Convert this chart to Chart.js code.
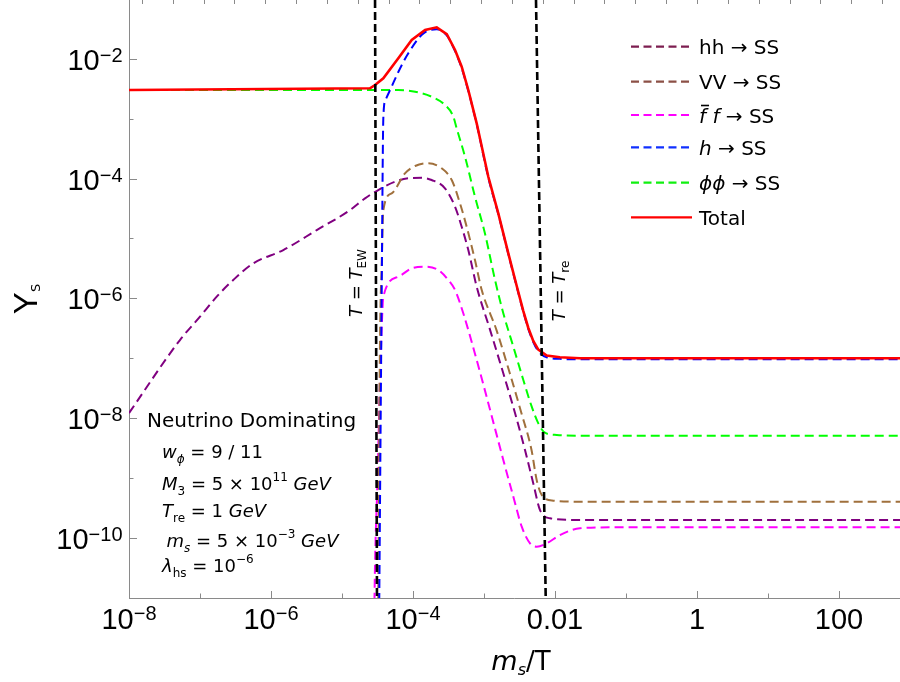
<!DOCTYPE html>
<html><head><meta charset="utf-8">
<script src="https://cdn.jsdelivr.net/npm/chart.js@4.4.0/dist/chart.umd.min.js"></script>
<style>html,body{margin:0;padding:0;background:#fff;}#wrap{width:900px;height:682px;}</style>
</head><body><div id="wrap"><canvas id="c" width="900" height="682"></canvas></div>
<script>
// ---- axis ranges ----
const X_MIN = 1e-8, X_MAX = 723, Y_MIN = 1e-11, Y_MAX = 0.0955;

// ---- series (x = m_s/T, y = Y_S) ----
const totalX = [1e-8, 2.48e-5, 2.92e-5, 3.82e-5, 6.21e-5, 9.59e-5, 1.48e-4, 2.16e-4, 2.99e-4, 3.91e-4, 4.85e-4, 6.01e-4, 7.89e-4, 1.15e-3, 1.59e-3, 2.20e-3, 2.89e-3, 3.58e-3, 4.21e-3, 4.94e-3, 5.82e-3, 7.64e-3, 1.17e-2, 2.25e-2, 723];
const totalY = [3.01e-3, 3.21e-3, 3.64e-3, 4.71e-3, 1.02e-2, 2.05e-2, 3.01e-2, 3.34e-2, 2.58e-2, 1.40e-2, 7.35e-3, 3.01e-3, 8.35e-4, 1.07e-4, 2.63e-5, 5.65e-6, 1.61e-6, 6.15e-7, 3.21e-7, 1.95e-7, 1.40e-7, 1.11e-7, 1.04e-7, 1.00e-7, 1.00e-7];

const hX = [3.30e-5, 3.35e-5, 3.62e-5, 3.82e-5, 4.10e-5, 4.90e-5, 6.21e-5, 8.59e-5, 1.40e-4, 2.16e-4, 2.99e-4, 3.91e-4, 4.85e-4, 6.01e-4, 7.89e-4, 1.15e-3, 1.59e-3, 2.20e-3, 2.89e-3, 3.58e-3, 4.21e-3, 4.94e-3, 5.82e-3, 7.64e-3, 1.17e-2, 2.25e-2, 723];
const hY = [1e-12, 1e-11, 1.07e-6, 1.02e-3, 2.05e-3, 3.24e-3, 6.00e-3, 1.23e-2, 2.65e-2, 3.10e-2, 2.45e-2, 1.34e-2, 7.0e-3, 2.9e-3, 8.1e-4, 1.04e-4, 2.55e-5, 5.5e-6, 1.57e-6, 5.95e-7, 3.1e-7, 1.87e-7, 1.32e-7, 1.04e-7, 9.8e-8, 9.62e-8, 9.62e-8];

const ppX = [1e-8, 2.48e-5, 6.21e-5, 1.07e-4, 1.83e-4, 2.82e-4, 3.70e-4, 4.12e-4, 5.40e-4, 7.46e-4, 1.03e-3, 1.43e-3, 1.87e-3, 2.59e-3, 3.58e-3, 4.70e-3, 5.82e-3, 7.23e-3, 1.06e-2, 2.25e-2, 723];
const ppY = [3.01e-3, 3.01e-3, 3.01e-3, 2.81e-3, 2.32e-3, 1.69e-3, 1.08e-3, 6.89e-4, 2.32e-4, 4.98e-5, 1.22e-5, 2.03e-6, 5.64e-7, 1.56e-7, 4.35e-8, 1.56e-8, 8.22e-9, 5.73e-9, 5.25e-9, 5.11e-9, 5.11e-9];

const vvX = [3.20e-5, 3.43e-5, 3.62e-5, 3.82e-5, 5.01e-5, 7.71e-5, 1.07e-4, 1.64e-4, 2.54e-4, 3.51e-4, 4.59e-4, 5.70e-4, 7.46e-4, 9.29e-4, 1.50e-3, 2.31e-3, 3.37e-3, 4.67e-3, 5.52e-3, 6.50e-3, 9.46e-3, 2.25e-2, 723];
const vvY = [1e-12, 2.02e-7, 3.38e-6, 2.98e-5, 5.68e-5, 1.22e-4, 1.62e-4, 1.80e-4, 1.48e-4, 9.46e-5, 3.86e-5, 1.57e-5, 4.37e-6, 1.38e-6, 2.96e-7, 5.62e-8, 1.21e-8, 2.95e-9, 9.31e-10, 5.24e-10, 4.21e-10, 4.05e-10, 4.05e-10];

const hhX = [1e-8, 5.22e-8, 1.00e-7, 1.72e-7, 2.94e-7, 5.64e-7, 1.49e-6, 4.41e-6, 1.30e-5, 2.11e-5, 3.24e-5, 5.57e-5, 8.59e-5, 1.33e-4, 1.83e-4, 2.82e-4, 3.91e-4, 4.85e-4, 6.01e-4, 7.89e-4, 1.22e-3, 1.87e-3, 2.74e-3, 3.78e-3, 4.94e-3, 6.15e-3, 8.51e-3, 2.25e-2, 723];
const hhY = [1.22e-8, 2.02e-7, 4.95e-7, 1.07e-6, 2.03e-6, 3.85e-6, 6.41e-6, 1.38e-5, 2.98e-5, 4.68e-5, 6.44e-5, 8.86e-5, 1.01e-4, 1.03e-4, 9.46e-5, 6.87e-5, 3.39e-5, 1.57e-5, 6.41e-6, 1.57e-6, 2.96e-7, 5.62e-8, 1.21e-8, 2.95e-9, 8.20e-10, 2.94e-10, 2.14e-10, 2.00e-10, 2.00e-10];

const ffX = [2.82e-5, 2.87e-5, 3.16e-5, 3.43e-5, 3.66e-5, 3.82e-5, 6.21e-5, 9.59e-5, 1.48e-4, 2.27e-4, 3.14e-4, 3.91e-4, 5.11e-4, 7.89e-4, 1.22e-3, 1.87e-3, 2.59e-3, 3.40e-3, 4.45e-3, 5.52e-3, 7.64e-3, 1.17e-2, 2.25e-2, 7.40e-2, 723];
const ffY = [1e-12, 1e-11, 9.31e-10, 4.35e-8, 4.36e-7, 1.07e-6, 2.30e-6, 3.18e-6, 3.38e-6, 2.98e-6, 2.03e-6, 1.38e-6, 5.64e-7, 9.37e-8, 1.37e-8, 2.01e-9, 4.90e-10, 1.55e-10, 8.18e-11, 7.18e-11, 8.18e-11, 1.12e-10, 1.46e-10, 1.51e-10, 1.51e-10];

// vertical reference lines T = T_EW and T = T_re
const ewX = [2.92e-5, 3.11e-5], ewY = [Y_MAX, Y_MIN];
const reX = [5.40e-3, 7.40e-3], reY = [Y_MAX, Y_MIN];

// ---- ticks ----
const xMajor = [1e-8, 1e-6, 1e-4, 1e-2, 1, 100];
const xMajorLabels = [['10','−8'], ['10','−6'], ['10','−4'], ['0.01',''], ['1',''], ['100','']];
const xMinor = [1e-7, 1e-5, 1e-3, 0.1, 10];
const yMajor = [1e-2, 1e-4, 1e-6, 1e-8, 1e-10];
const yMajorLabels = [['10','−2'], ['10','−4'], ['10','−6'], ['10','−8'], ['10','−10']];
const yMinor = [1e-3, 1e-5, 1e-7, 1e-9, 1e-11];
const topTickLn = [-18,-17,-16,-15,-14,-13,-12,-11,-10,-9,-8,-7,-6,-5,-4,-3,-2,-1,0,1,2,3,4,5,6];

const mk = (xs, ys) => xs.map((x, i) => ({x, y: ys[i]}));
const DASH = [9, 5];
const base = {pointRadius: 0, fill: false, borderWidth: 2, cubicInterpolationMode: 'monotone'};

const datasets = [
  Object.assign({}, base, {label: 'ew', data: mk(ewX, ewY), borderColor: '#000', borderWidth: 2.6, borderDash: [8, 4], cubicInterpolationMode: 'default', tension: 0}),
  Object.assign({}, base, {label: 're', data: mk(reX, reY), borderColor: '#000', borderWidth: 2.6, borderDash: [8, 4], cubicInterpolationMode: 'default', tension: 0}),
  Object.assign({}, base, {label: 'Total', data: mk(totalX, totalY), borderColor: '#ff0000', borderWidth: 2.6, cubicInterpolationMode: 'default', tension: 0}),
  Object.assign({}, base, {label: 'h', data: mk(hX, hY), borderColor: '#0000ff', borderDash: DASH}),
  Object.assign({}, base, {label: 'pp', data: mk(ppX, ppY), borderColor: '#00ff00', borderDash: DASH}),
  Object.assign({}, base, {label: 'VV', data: mk(vvX, vvY), borderColor: '#a0703c', borderDash: DASH}),
  Object.assign({}, base, {label: 'hh', data: mk(hhX, hhY), borderColor: '#800080', borderDash: DASH}),
  Object.assign({}, base, {label: 'ff', data: mk(ffX, ffY), borderColor: '#ff00ff', borderDash: DASH})
];

// ---- rich text helper ----
function rich(ctx, segs, x, y, align) {
  let w = 0;
  for (const s of segs) { ctx.font = s.f; s.w = ctx.measureText(s.t).width; w += s.w; }
  let cx = align === 'center' ? x - w / 2 : (align === 'right' ? x - w : x);
  for (const s of segs) {
    ctx.font = s.f;
    ctx.fillText(s.t, cx, y + (s.dy || 0));
    if (s.over) {
      ctx.save(); ctx.lineWidth = 1.6; ctx.setLineDash([]); ctx.strokeStyle = ctx.fillStyle;
      ctx.beginPath(); ctx.moveTo(cx + 2, y - 17); ctx.lineTo(cx + s.w + 3, y - 17); ctx.stroke(); ctx.restore();
    }
    cx += s.w;
  }
  return w;
}

const AX = '#8a8a8a';
const TF = '29px "Liberation Sans", Arial, sans-serif', TS = '20px "Liberation Sans", Arial, sans-serif';
const DJ = '"DejaVu Sans", sans-serif';
const N20 = '20px ' + DJ, I20 = 'italic 20px ' + DJ;
const N18 = '18px ' + DJ, I18 = 'italic 18px ' + DJ, S12 = '12px ' + DJ, SI12 = 'italic 12px ' + DJ;

const legendRows = [
  {color: '#7d1e50', dash: [8, 4.5], segs: [{t: 'hh → SS', f: N20}]},
  {color: '#8c5046', dash: [8, 4.5], segs: [{t: 'VV → SS', f: N20}]},
  {color: '#ff00ff', dash: [8, 4.5], segs: [{t: 'f', f: I20, over: true}, {t: ' ', f: N20}, {t: 'f', f: I20}, {t: ' → SS', f: N20}]},
  {color: '#1030ff', dash: [8, 4.5], segs: [{t: 'h', f: I20}, {t: ' → SS', f: N20}]},
  {color: '#10f010', dash: [8, 4.5], segs: [{t: 'ϕϕ', f: I20}, {t: ' → SS', f: N20}]},
  {color: '#ff0000', dash: [], segs: [{t: 'Total', f: N20}]}
];
const legendY = [46.7, 81.7, 115, 147.3, 182.7, 217.3];

const deco = {
  id: 'deco',
  beforeDatasetsDraw(chart) {
    const ctx = chart.ctx, xs = chart.scales.x, ys = chart.scales.y, a = chart.chartArea;
    ctx.save();
    ctx.strokeStyle = AX; ctx.lineWidth = 1; ctx.setLineDash([]);
    ctx.beginPath();
    ctx.moveTo(a.left + 0.5, a.top); ctx.lineTo(a.left + 0.5, a.bottom + 0.5); ctx.lineTo(a.right, a.bottom + 0.5);
    ctx.stroke();
    const tick = (x1, y1, x2, y2) => { ctx.beginPath(); ctx.moveTo(x1, y1); ctx.lineTo(x2, y2); ctx.stroke(); };
    for (const v of yMajor) { const p = Math.round(ys.getPixelForValue(v)) + 0.5; tick(a.left, p, a.left + 8, p); }
    for (const v of yMinor) { const p = Math.round(ys.getPixelForValue(v)) + 0.5; tick(a.left, p, a.left + 4.5, p); }
    for (const v of xMajor) { const p = Math.round(xs.getPixelForValue(v)) + 0.5; tick(p, a.bottom, p, a.bottom - 7); }
    for (const v of xMinor) { const p = Math.round(xs.getPixelForValue(v)) + 0.5; tick(p, a.bottom, p, a.bottom - 4.5); }
    for (const n of topTickLn) { const p = Math.round(xs.getPixelForValue(Math.exp(n))) + 0.5; if (p > a.left && p < a.right) tick(p, a.top, p, a.top + 4); }
    ctx.restore();
  },
  afterDraw(chart) {
    const ctx = chart.ctx, xs = chart.scales.x, ys = chart.scales.y, a = chart.chartArea;
    ctx.save();
    ctx.fillStyle = '#000'; ctx.textAlign = 'left'; ctx.textBaseline = 'alphabetic';
    // y tick labels
    yMajor.forEach((v, i) => {
      const p = ys.getPixelForValue(v);
      rich(ctx, [{t: yMajorLabels[i][0], f: TF}, {t: yMajorLabels[i][1], f: TS, dy: -8}], 122.5, p + 11, 'right');
    });
    // x tick labels
    xMajor.forEach((v, i) => {
      const p = xs.getPixelForValue(v);
      const segs = [{t: xMajorLabels[i][0], f: TF}];
      if (xMajorLabels[i][1]) segs.push({t: xMajorLabels[i][1], f: TS, dy: -8.5});
      rich(ctx, segs, p, a.bottom + 30.5, 'center');
    });
    // axis titles
    rich(ctx, [{t: 'm', f: 'italic 27px ' + DJ}, {t: 's', f: 'italic 16px ' + DJ, dy: 5}, {t: '/T', f: '26px ' + DJ}], 521, 670, 'center');
    ctx.save(); ctx.translate(36.5, 299); ctx.rotate(-Math.PI / 2);
    rich(ctx, [{t: 'Y', f: '33px "Liberation Sans", Arial, sans-serif'}, {t: 'S', f: '13px ' + DJ, dy: 3.5}], 0, 0, 'center');
    ctx.restore();
    // rotated line labels
    ctx.save(); ctx.translate(362, 283); ctx.rotate(-Math.PI / 2);
    rich(ctx, [{t: 'T', f: 'italic 18px ' + DJ}, {t: ' = ', f: '18px ' + DJ}, {t: 'T', f: 'italic 18px ' + DJ}, {t: 'EW', f: S12, dy: 4}], 0, 0, 'center');
    ctx.restore();
    ctx.save(); ctx.translate(565, 291); ctx.rotate(-Math.PI / 2);
    rich(ctx, [{t: 'T', f: 'italic 18px ' + DJ}, {t: ' = ', f: '18px ' + DJ}, {t: 'T', f: 'italic 18px ' + DJ}, {t: 're', f: S12, dy: 4}], 0, 0, 'center');
    ctx.restore();
    // parameter block
    rich(ctx, [{t: 'Neutrino Dominating', f: N20}], 147, 427, 'left');
    rich(ctx, [{t: 'w', f: I18}, {t: 'ϕ', f: SI12, dy: 5}, {t: ' = 9 / 11', f: N18}], 162, 458, 'left');
    rich(ctx, [{t: 'M', f: I18}, {t: '3', f: S12, dy: 5}, {t: ' = 5 × 10', f: N18}, {t: '11', f: S12, dy: -9}, {t: ' GeV', f: I18}], 162, 490, 'left');
    rich(ctx, [{t: 'T', f: I18}, {t: 're', f: S12, dy: 5}, {t: ' = 1 ', f: N18}, {t: 'GeV', f: I18}], 162, 516.5, 'left');
    rich(ctx, [{t: 'm', f: I18}, {t: 's', f: SI12, dy: 5}, {t: ' = 5 × 10', f: N18}, {t: '−3', f: S12, dy: -9}, {t: ' GeV', f: I18}], 166.5, 546.5, 'left');
    rich(ctx, [{t: 'λ', f: I18}, {t: 'hs', f: S12, dy: 5}, {t: ' = 10', f: N18}, {t: '−6', f: S12, dy: -9}], 162, 571.5, 'left');
    // legend
    legendRows.forEach((r, i) => {
      const y = legendY[i];
      ctx.save(); ctx.strokeStyle = r.color; ctx.lineWidth = 2.2; ctx.setLineDash(r.dash);
      ctx.beginPath(); ctx.moveTo(631, y); ctx.lineTo(692, y); ctx.stroke(); ctx.restore();
      ctx.fillStyle = '#000';
      rich(ctx, r.segs, 699, y + 7.5, 'left');
    });
    ctx.restore();
  }
};

new Chart(document.getElementById('c'), {
  type: 'line',
  data: {datasets},
  options: {
    responsive: false, animation: false, devicePixelRatio: 1,
    layout: {padding: 0},
    plugins: {legend: {display: false}, tooltip: {enabled: false}},
    scales: {
      x: {type: 'logarithmic', position: 'bottom', min: X_MIN, max: X_MAX, grid: {display: false}, border: {display: false}, ticks: {display: false}, afterFit(s) { s.height = 84; }},
      y: {type: 'logarithmic', position: 'left', min: Y_MIN, max: Y_MAX, grid: {display: false}, border: {display: false}, ticks: {display: false}, afterFit(s) { s.width = 129; }}
    }
  },
  plugins: [deco]
});
</script></body></html>
